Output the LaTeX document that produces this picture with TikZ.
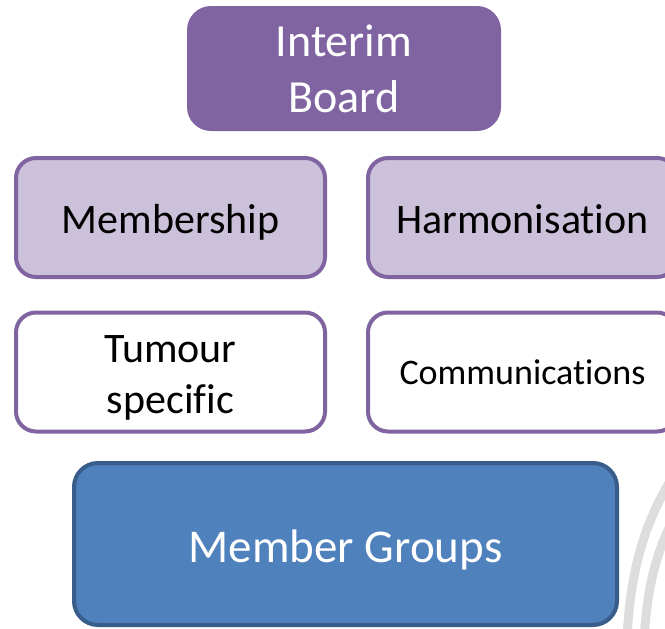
\documentclass[tikz,border=0pt]{standalone}
\usepackage{fontspec}
\setmainfont{Carlito}[Ligatures={CommonOff,RareOff,ContextualOff},RawFeature={-liga;-clig;-dlig;-calt}]
\definecolor{boardpurple}{HTML}{8064A2}
\definecolor{lavender}{HTML}{CCC1DA}
\definecolor{groupblue}{HTML}{4F81BD}
\definecolor{groupedge}{HTML}{385D8A}
\definecolor{watermark}{HTML}{DDDDDD}
\newcommand{\ppstrut}{\rule[-.269em]{0pt}{1.221em}}
\newcommand{\ppstruttop}{\rule[-.269em]{0pt}{\dimexpr1.221em+4pt\relax}}
\newcommand{\ppfont}[1]{\fontsize{#1}{1.221\dimexpr#1pt\relax}\selectfont}
\begin{document}
\begin{tikzpicture}[x=1pt,y=-1pt,
  boardbox/.style={fill=boardpurple,rounded corners=24pt,minimum width=314pt,minimum height=125pt,inner sep=0pt,text=white,align=center,font=\ppfont{46}},
  lavbox/.style={draw=boardpurple,line width=4pt,fill=lavender,rounded corners=20pt,minimum width=309pt,minimum height=119pt,inner sep=0pt,align=center,font=\ppfont{42}},
  whitebox/.style={lavbox,fill=white},
  groupbox/.style={draw=groupedge,line width=4pt,fill=groupblue,rounded corners=24pt,minimum width=543pt,minimum height=162pt,inner sep=0pt,text=white,align=center,font=\ppfont{47}},
  arcband/.style={draw=watermark,line width=9pt}]
\useasboundingbox (0,0) rectangle (665,629);
\clip (0,0) rectangle (665,629);
\fill[white] (0,0) rectangle (665,629);
% watermark arcs
\draw[arcband] (627,640) .. controls (630,570) and (645,522) .. (672,478);
\draw[arcband] (644,640) .. controls (647,592) and (654,558) .. (672,522);
\node[boardbox] (board) at (344,68.5) {\ppstrut Interim\\\ppstrut Board};
\node[lavbox] (member) at (170.5,217.5) {\ppstruttop Membership};
\node[lavbox] (harmon) at (522.5,217.5) {\ppstruttop Harmonisat\kern0pt ion};
\node[whitebox] (tumour) at (170.5,372) {\ppstruttop Tumour\\\ppstrut specif\kern0pt ic};
\node[whitebox,font=\ppfont{36}] (comms) at (522.5,372) {\ppstrut Communicat\kern0pt ions};
\node[groupbox] (groups) at (345.5,544) {\ppstruttop Member Groups};
\end{tikzpicture}
\end{document}
